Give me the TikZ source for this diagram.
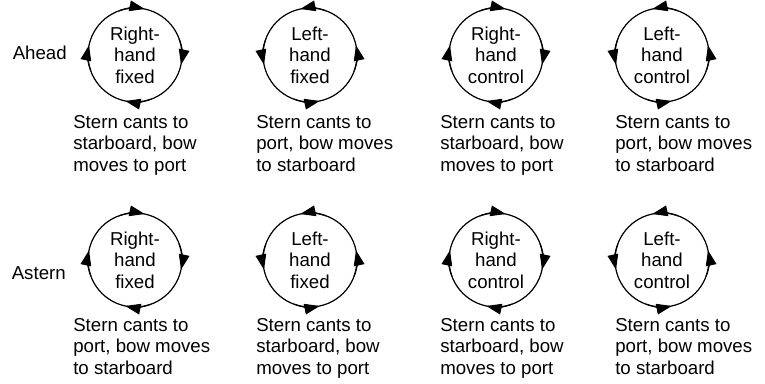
\documentclass[tikz,border=0pt]{standalone}
\usepackage{fontspec}
\setmainfont{Liberation Sans}
\usepackage{tikz}
\usetikzlibrary{arrows.meta}

\tikzset{
  wheel/.style={draw, circle, line width=0.9pt, minimum size=70.5pt, inner sep=0pt,
    align=center, font=\fontsize{14}{16.1}\selectfont},
  note/.style={anchor=north west, inner sep=0pt, align=left,
    font=\fontsize{14}{16.1}\selectfont},
  rowlabel/.style={anchor=base east, inner sep=0pt, font=\fontsize{14}{16.1}\selectfont},
  tip/.style={line width=0.9pt, -{Triangle[length=11.5pt,width=8pt]}}
}
% arrowheads round a wheel
\newcommand{\clockarrows}[1]{%
  \foreach \a in {90,0,-90,-180}
    \draw[tip] (#1.center) ++({\a+20}:35.25pt) arc[start angle=\a+20, delta angle=-32, radius=35.25pt];}
\newcommand{\anticlockarrows}[1]{%
  \foreach \a in {90,0,-90,-180}
    \draw[tip] (#1.center) ++({\a-20}:35.25pt) arc[start angle=\a-20, delta angle=32, radius=35.25pt];}

\begin{document}
\begin{tikzpicture}[x=0.75pt, y=0.75pt]
  \useasboundingbox (0,0) rectangle (765,-384);
  % Row labels
  \node[rowlabel] (ahead) at (67,-60) {Ahead};
  \node[rowlabel] (astern) at (66,-280) {Astern};
  % Ahead wheels
  \node[wheel] (aheadRF) at (135,-55) {Right-\\hand\\fixed};
  \node[wheel] (aheadLF) at (310,-55) {Left-\\hand\\fixed};
  \node[wheel] (aheadRC) at (496,-55) {Right-\\hand\\control};
  \node[wheel] (aheadLC) at (662,-55) {Left-\\hand\\control};
  % Astern wheels
  \node[wheel] (asternRF) at (135,-260) {Right-\\hand\\fixed};
  \node[wheel] (asternLF) at (310,-260) {Left-\\hand\\fixed};
  \node[wheel] (asternRC) at (496,-260) {Right-\\hand\\control};
  \node[wheel] (asternLC) at (662,-260) {Left-\\hand\\control};
  % Direction of turn
  \clockarrows{aheadRF}
  \anticlockarrows{aheadLF}
  \clockarrows{aheadRC}
  \anticlockarrows{aheadLC}
  \clockarrows{asternRF}
  \anticlockarrows{asternLF}
  \clockarrows{asternRC}
  \anticlockarrows{asternLC}
  % Effects, ahead
  \node[note] (aheadRFtxt) at (73,-115) {Stern cants to\\starboard, bow\\moves to port};
  \node[note] (aheadLFtxt) at (256,-115) {Stern cants to\\port, bow moves\\to starboard};
  \node[note] (aheadRCtxt) at (440,-115) {Stern cants to\\starboard, bow\\moves to port};
  \node[note] (aheadLCtxt) at (615,-115) {Stern cants to\\port, bow moves\\to starboard};
  % Effects, astern
  \node[note] (asternRFtxt) at (73,-318) {Stern cants to\\port, bow moves\\to starboard};
  \node[note] (asternLFtxt) at (256,-318) {Stern cants to\\starboard, bow\\moves to port};
  \node[note] (asternRCtxt) at (440,-318) {Stern cants to\\starboard, bow\\moves to port};
  \node[note] (asternLCtxt) at (615,-318) {Stern cants to\\port, bow moves\\to starboard};
\end{tikzpicture}
\end{document}
